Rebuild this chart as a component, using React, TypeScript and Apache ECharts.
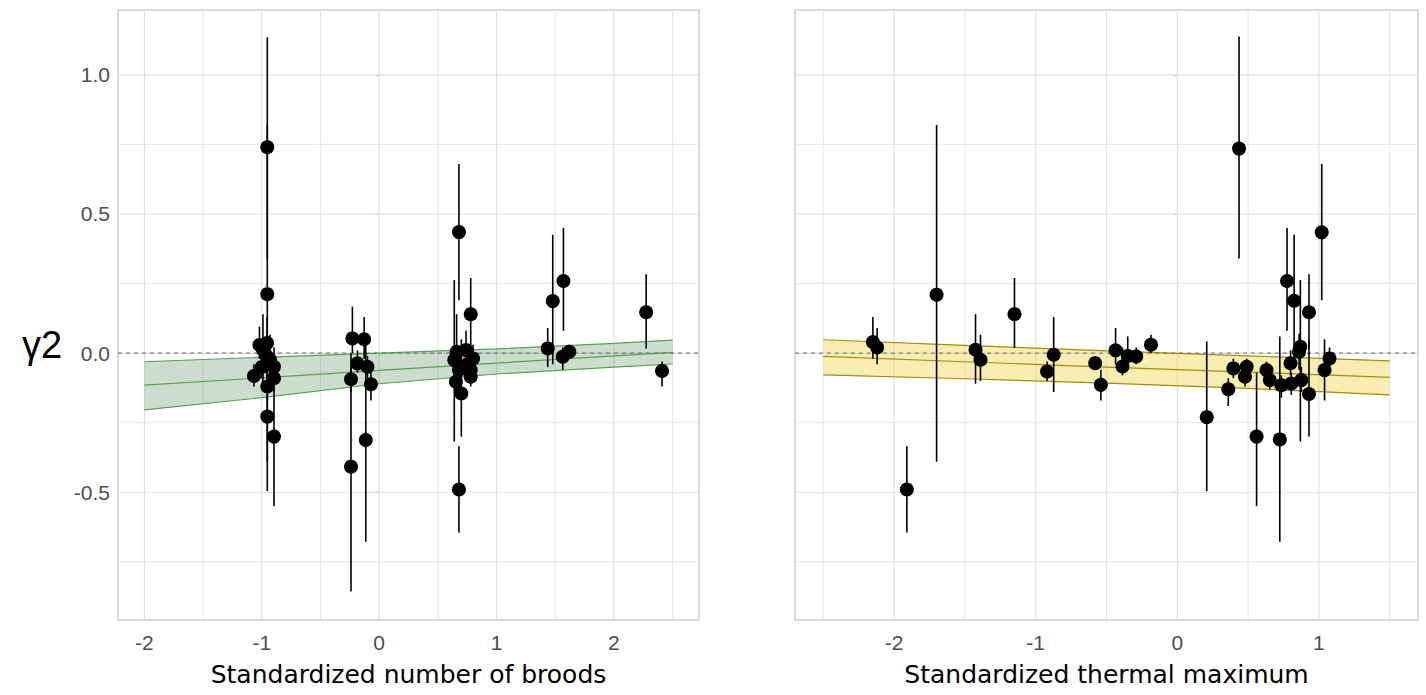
import React, { useEffect, useRef } from "react";
import * as echarts from "echarts";

// ---------- Left panel: standardized number of broods ----------
const broodsX = [
  -0.953, -0.953, -1.02, -0.955, -0.99, -0.96, -0.896, -1.067, -0.896, -0.953, -0.953, -0.896, -0.93, -1.0,
  -0.228, -0.128, -0.185, -0.1, -0.24, -0.07, -0.114, -0.24,
  0.68, 0.68, 0.78, 0.64, 0.74, 0.8, 0.68, 0.78, 0.654, 0.7, 0.78, 0.66, 0.75,
  1.479, 1.57, 1.436, 1.564, 1.62,
  2.275, 2.41,
];
const broodsY = [
  0.74, 0.212, 0.029, 0.036, 0.012, -0.01, -0.049, -0.082, -0.09, -0.12, -0.228, -0.3, -0.024, -0.05,
  0.053, 0.05, -0.037, -0.049, -0.094, -0.112, -0.312, -0.408,
  0.435, -0.49, 0.14, -0.025, 0.011, -0.019, -0.06, -0.061, -0.103, -0.145, -0.085, 0.005, -0.04,
  0.187, 0.259, 0.017, -0.013, 0.005,
  0.147, -0.064,
];
const broodsLo = [
  0.34, -0.39, -0.02, -0.04, -0.11, -0.06, -0.08, -0.12, -0.14, -0.17, -0.496, -0.55, -0.1, -0.09,
  0.0, -0.02, -0.07, -0.09, -0.14, -0.17, -0.678, -0.857,
  0.19, -0.645, 0.018, -0.318, -0.05, -0.06, -0.1, -0.1, -0.14, -0.3, -0.12, -0.05, -0.08,
  -0.04, 0.08, -0.05, -0.06, -0.02,
  0.017, -0.12,
];
const broodsHi = [
  1.135, 0.82, 0.095, 0.13, 0.14, 0.06, 0.02, -0.04, -0.04, -0.06, 0.042, -0.07, 0.066, -0.01,
  0.167, 0.13, 0.01, -0.01, -0.05, -0.06, 0.06, 0.0,
  0.68, -0.335, 0.27, 0.263, 0.08, 0.03, -0.02, -0.02, -0.06, 0.05, -0.05, 0.14, 0.0,
  0.425, 0.45, 0.09, 0.02, 0.03,
  0.283, -0.03,
];
const broodsFitX = [-2, -1, 0, 1, 2, 2.5];
const broodsFitMid = [-0.115, -0.089, -0.062, -0.036, -0.01, 0.003];
const broodsFitLo = [-0.204, -0.16, -0.11, -0.075, -0.05, -0.039];
const broodsFitHi = [-0.031, -0.015, 0.0, 0.015, 0.035, 0.047];

// ---------- Right panel: standardized thermal maximum ----------
const tmaxX = [
  -2.15, -2.12, -1.91, -1.7, -1.425, -1.39, -1.15, -0.92, -0.873, -0.58, -0.54, -0.436, -0.387, -0.35, -0.29, -0.186,
  0.208, 0.36, 0.396, 0.436, 0.478, 0.49, 0.56, 0.63, 0.653, 0.724, 0.735, 0.775, 0.825, 0.869, 0.86, 0.8, 0.805,
  0.876, 0.93, 0.93, 1.02, 1.04, 1.075,
];
const tmaxY = [
  0.04, 0.02, -0.49, 0.21, 0.012, -0.024, 0.14, -0.066, -0.006, -0.036, -0.114, 0.01, -0.048, -0.01, -0.012, 0.03,
  -0.23, -0.13, -0.055, 0.735, -0.085, -0.049, -0.3, -0.061, -0.097, -0.31, -0.115, 0.259, 0.188, 0.023, 0.005, -0.036, -0.109,
  -0.097, 0.147, -0.147, 0.434, -0.061, -0.019,
];
const tmaxLo = [
  -0.02, -0.04, -0.645, -0.39, -0.11, -0.1, 0.018, -0.1, -0.14, -0.06, -0.17, -0.04, -0.08, -0.06, -0.04, 0.0,
  -0.496, -0.19, -0.09, 0.34, -0.12, -0.08, -0.55, -0.09, -0.13, -0.678, -0.16, 0.08, -0.04, -0.318, -0.06, -0.08, -0.15,
  -0.14, 0.017, -0.3, 0.19, -0.17, -0.06,
];
const tmaxHi = [
  0.13, 0.09, -0.335, 0.82, 0.14, 0.066, 0.27, -0.03, 0.13, -0.01, -0.06, 0.09, 0.02, 0.06, 0.02, 0.066,
  0.042, -0.09, -0.02, 1.138, -0.05, -0.02, -0.07, -0.03, -0.06, 0.06, -0.08, 0.45, 0.425, 0.263, 0.07, 0.01, -0.07,
  -0.05, 0.283, 0.05, 0.68, 0.05, 0.02,
];
const tmaxFitX = [-2.5, -1.5, -0.5, 0.5, 1.5];
const tmaxFitMid = [-0.012, -0.031, -0.05, -0.068, -0.087];
const tmaxFitLo = [-0.078, -0.092, -0.108, -0.127, -0.15];
const tmaxFitHi = [0.048, 0.028, 0.008, -0.01, -0.028];

// ---------- Axes ----------
const xTicksBroods = [-2, -1, 0, 1, 2];
const xMinorBroods = [-1.5, -0.5, 0.5, 1.5, 2.5];
const xTicksTmax = [-2, -1, 0, 1];
const xMinorTmax = [-2.5, -1.5, -0.5, 0.5, 1.5];
const yTicks = [-0.5, 0, 0.5, 1.0];
const yMinor = [-0.75, -0.25, 0.25, 0.75];

const xRangeBroods = [-2.225, 2.725];
const xRangeTmax = [-2.7, 1.7];
const yRange = [-0.959, 1.233];

const GRID_COLOR = "#DEDEDE";
const BORDER_COLOR = "#B3B3B3";
const TICK_TEXT = "#4D4D4D";
const TICK_FONT = '"Liberation Sans", Arial, sans-serif';
const TITLE_FONT = '"DejaVu Sans", sans-serif';

function vLines(values: number[], gi: number, width: number) {
  return {
    type: "custom",
    xAxisIndex: gi,
    yAxisIndex: gi,
    z: 1,
    silent: true,
    data: values.map((v) => [v, 0]),
    renderItem: (params: any, api: any) => {
      const cs = params.coordSys;
      const p = api.coord([api.value(0), 0]);
      return {
        type: "line",
        shape: { x1: p[0], y1: cs.y, x2: p[0], y2: cs.y + cs.height },
        style: { stroke: GRID_COLOR, lineWidth: width },
      };
    },
  };
}

function hLines(values: number[], gi: number, width: number, stroke = GRID_COLOR, dash?: number[], z = 1) {
  return {
    type: "custom",
    xAxisIndex: gi,
    yAxisIndex: gi,
    z,
    silent: true,
    data: values.map((v) => [0, v]),
    renderItem: (params: any, api: any) => {
      const cs = params.coordSys;
      const p = api.coord([0, api.value(1)]);
      return {
        type: "line",
        shape: { x1: cs.x, y1: p[1], x2: cs.x + cs.width, y2: p[1] },
        style: { stroke, lineWidth: width, lineDash: dash },
      };
    },
  };
}

function ribbon(xs: number[], lo: number[], hi: number[], gi: number, fill: string) {
  return {
    type: "custom",
    xAxisIndex: gi,
    yAxisIndex: gi,
    z: 2,
    silent: true,
    data: xs.map((x, i) => [x, lo[i], hi[i]]),
    renderItem: (params: any, api: any) => {
      if (params.dataIndex !== 0) return null;
      const top = xs.map((x, i) => api.coord([x, hi[i]]));
      const bottom = xs.map((x, i) => api.coord([x, lo[i]])).reverse();
      return {
        type: "polygon",
        shape: { points: top.concat(bottom) },
        style: { fill },
      };
    },
  };
}

function fitLine(xs: number[], ys: number[], gi: number, color: string) {
  return {
    type: "line",
    xAxisIndex: gi,
    yAxisIndex: gi,
    z: 3,
    silent: true,
    showSymbol: false,
    symbol: "none",
    data: xs.map((x, i) => [x, ys[i]]),
    lineStyle: { color, width: 1.2 },
  };
}

function errorBars(xs: number[], lo: number[], hi: number[], gi: number) {
  return {
    type: "custom",
    xAxisIndex: gi,
    yAxisIndex: gi,
    z: 5,
    silent: true,
    data: xs.map((x, i) => [x, lo[i], hi[i]]),
    renderItem: (params: any, api: any) => {
      const a = api.coord([api.value(0), api.value(1)]);
      const b = api.coord([api.value(0), api.value(2)]);
      return {
        type: "line",
        shape: { x1: a[0], y1: a[1], x2: b[0], y2: b[1] },
        style: { stroke: "#000", lineWidth: 1.6 },
      };
    },
  };
}

function points(xs: number[], ys: number[], gi: number) {
  return {
    type: "scatter",
    xAxisIndex: gi,
    yAxisIndex: gi,
    z: 6,
    silent: true,
    symbol: "circle",
    symbolSize: 14,
    itemStyle: { color: "#000", opacity: 1 },
    data: xs.map((x, i) => [x, ys[i]]),
  };
}

function xAxis(gi: number, range: number[], ticks: number[], name: string) {
  return {
    type: "value",
    gridIndex: gi,
    min: range[0],
    max: range[1],
    axisLine: { show: false },
    splitLine: { show: false },
    axisTick: { show: true, length: 4, customValues: ticks, lineStyle: { color: BORDER_COLOR, width: 1 } },
    axisLabel: {
      customValues: ticks,
      margin: 12,
      color: TICK_TEXT,
      fontSize: 21,
      fontFamily: TICK_FONT,
      formatter: (v: number) => String(Math.round(v)),
    },
    name,
    nameLocation: "middle",
    nameGap: 42,
    nameTextStyle: { color: "#000", fontSize: 25, fontFamily: TITLE_FONT },
  };
}

function yAxis(gi: number, showLabels: boolean) {
  return {
    type: "value",
    gridIndex: gi,
    min: yRange[0],
    max: yRange[1],
    axisLine: { show: false },
    splitLine: { show: false },
    axisTick: { show: true, length: 4, customValues: yTicks, lineStyle: { color: BORDER_COLOR, width: 1 } },
    axisLabel: {
      show: showLabels,
      customValues: yTicks,
      margin: 8,
      color: TICK_TEXT,
      fontSize: 21,
      fontFamily: TICK_FONT,
      formatter: (v: number) => v.toFixed(1),
    },
  };
}

export default function App() {
  const ref = useRef<HTMLDivElement>(null);
  useEffect(() => {
    if (!ref.current) return;
    const chart = echarts.init(ref.current, undefined, { renderer: "svg" });
    chart.setOption({
      animation: false,
      backgroundColor: "#fff",
      grid: [
        { left: 118, top: 10, width: 581, height: 610, show: true, borderColor: BORDER_COLOR, borderWidth: 1, backgroundColor: "#fff", containLabel: false, outerBoundsMode: "none" },
        { left: 795, top: 10, width: 623, height: 610, show: true, borderColor: BORDER_COLOR, borderWidth: 1, backgroundColor: "#fff", containLabel: false, outerBoundsMode: "none" },
      ],
      xAxis: [
        xAxis(0, xRangeBroods, xTicksBroods, "Standardized number of broods"),
        xAxis(1, xRangeTmax, xTicksTmax, "Standardized thermal maximum"),
      ],
      yAxis: [yAxis(0, true), yAxis(1, false)],
      graphic: [
        {
          type: "text",
          left: 22,
          top: 326,
          style: { text: "γ2", font: '38px "Liberation Sans", Arial, sans-serif', fill: "#000" },
        },
      ],
      series: [
        vLines(xTicksBroods, 0, 1.1),
        vLines(xMinorBroods, 0, 0.8),
        hLines(yTicks, 0, 1.1),
        hLines(yMinor, 0, 0.8),
        vLines(xTicksTmax, 1, 1.1),
        vLines(xMinorTmax, 1, 0.8),
        hLines(yTicks, 1, 1.1),
        hLines(yMinor, 1, 0.8),
        ribbon(broodsFitX, broodsFitLo, broodsFitHi, 0, "rgba(46,125,50,0.25)"),
        ribbon(tmaxFitX, tmaxFitLo, tmaxFitHi, 1, "rgba(240,215,80,0.45)"),
        fitLine(broodsFitX, broodsFitHi, 0, "#5A9E5A"),
        fitLine(broodsFitX, broodsFitMid, 0, "#5A9E5A"),
        fitLine(broodsFitX, broodsFitLo, 0, "#5A9E5A"),
        fitLine(tmaxFitX, tmaxFitHi, 1, "#A38B12"),
        fitLine(tmaxFitX, tmaxFitMid, 1, "#A38B12"),
        fitLine(tmaxFitX, tmaxFitLo, 1, "#A38B12"),
        hLines([0], 0, 1, "#666666", [4, 4], 4),
        hLines([0], 1, 1, "#666666", [4, 4], 4),
        errorBars(broodsX, broodsLo, broodsHi, 0),
        errorBars(tmaxX, tmaxLo, tmaxHi, 1),
        points(broodsX, broodsY, 0),
        points(tmaxX, tmaxY, 1),
      ],
    });
    return () => chart.dispose();
  }, []);
  return (
    <div
      ref={ref}
      style={{ position: "absolute", left: 0, top: 0, width: 1426, height: 695 }}
    />
  );
}
